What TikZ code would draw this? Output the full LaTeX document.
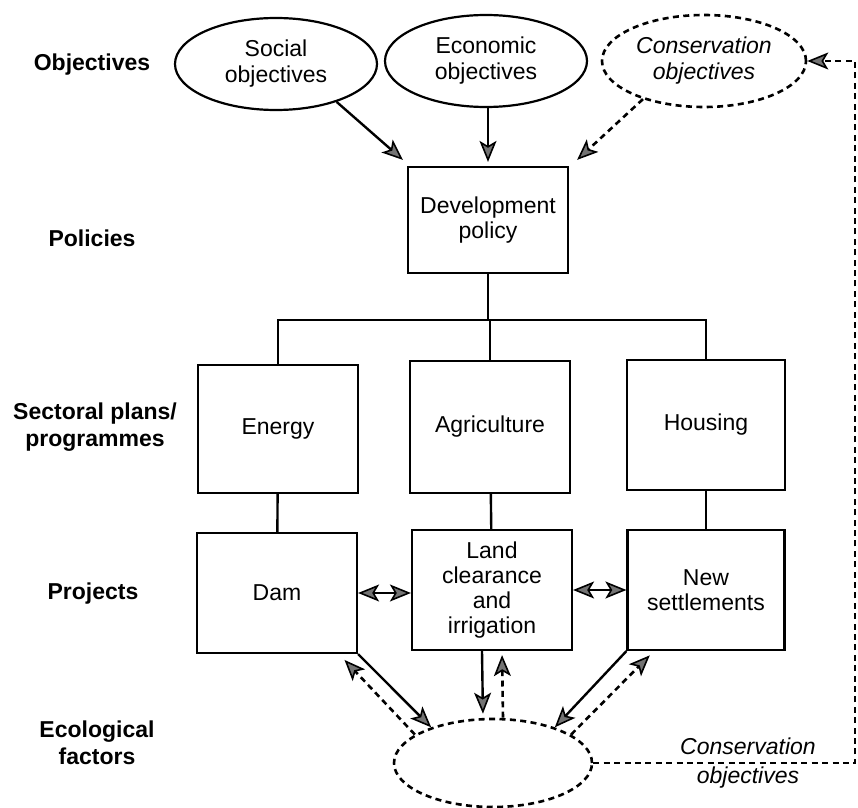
\documentclass[tikz,border=0pt]{standalone}
\usepackage{fontspec}
\setmainfont{Liberation Sans}
\usetikzlibrary{shapes.geometric,arrows.meta}

\begin{document}
\begin{tikzpicture}[x=0.5pt,y=-0.5pt,
  head/.tip={Stealth[length=10.5pt,width=8.5pt,inset=2.5pt,fill=black!55,line width=0.8pt]},
  box/.style={draw,line width=1.1pt,align=center,inner sep=2pt,
    font=\fontsize{11.5}{12.5}\selectfont},
  goal/.style={draw,ellipse,line width=1.1pt,align=center,inner sep=-3pt,
    minimum width=101pt,minimum height=46pt,font=\fontsize{11.5}{13}\selectfont},
  level/.style={align=center,inner sep=0pt,font=\fontsize{11.5}{13.5}\selectfont\bfseries},
  link/.style={line width=1.2pt},
  feed/.style={line width=1.3pt,dash pattern=on 3pt off 2.2pt}]
  \useasboundingbox (0,0) rectangle (858,808);

  % row labels
  \node[level] (lobj) at (92,65) {Objectives};
  \node[level] (lpol) at (92,238) {Policies};
  \node[level] (lsec) at (95,427) {Sectoral plans/\\programmes};
  \node[level] (lproj) at (93,594) {Projects};
  \node[level] (leco) at (97,743) {Ecological\\factors};

  % objectives
  \node[goal] (social) at (276,64) {Social\\objectives};
  \node[goal] (econ) at (486,61) {Economic\\objectives};
  \node[goal,feed,minimum width=102pt,
    font=\fontsize{11.5}{13}\selectfont\itshape] (cons) at (704,61) {Conservation\\objectives};

  % policy and plans
  \node[box,minimum width=80pt,minimum height=53pt] (policy) at (488,220) {Development\\policy};
  \node[box,minimum width=80pt,minimum height=64pt] (energy) at (278,429) {Energy};
  \node[box,minimum width=80pt,minimum height=66pt] (agri) at (490,427) {Agriculture};
  \node[box,minimum width=79pt,minimum height=65pt] (housing) at (706,425) {Housing};

  % projects
  \node[box,minimum width=80pt,minimum height=60pt] (dam) at (277,593) {Dam};
  \node[box,minimum width=80pt,minimum height=60pt] (land) at (492,590) {Land\\clearance\\and\\irrigation};
  \node[box,minimum width=78.5pt,minimum height=60pt] (settle) at (706,590) {New\\settlements};

  % ecological factors
  \node[draw,ellipse,feed,minimum width=99pt,minimum height=44pt] (ecol) at (493,763) {};
  \node[font=\fontsize{11.5}{14.5}\selectfont\itshape,align=center] (note) at (748,763) {Conservation\\objectives};

  % objectives into policy
  \draw[link,-head] (social.-32) -- ([shift={(-2pt,3pt)}]policy.north west);
  \draw[link,-head] (econ.south -| policy.north) -- ([yshift=2pt]policy.north);
  \draw[feed,-head] (cons.-148) -- ([shift={(4pt,3pt)}]policy.north east);

  % policy tree
  \coordinate (bar) at (0,320);
  \draw[link] (policy.south) -- (policy.south |- bar);
  \draw[link] (energy.north) -- (energy.north |- bar) -- (housing.north |- bar) -- (housing.north);
  \draw[link] (agri.north) -- (agri.north |- bar);
  \draw[link] (energy) -- (dam);
  \draw[link] (agri) -- (land);
  \draw[link] (housing) -- (settle);

  % links between projects
  \draw[link,head-head] (dam.east) -- (dam.east -| land.west);
  \draw[link,head-head] (land.east) -- (land.east -| settle.west);

  % projects and ecology
  \draw[link,-head] (dam.south east) -- (ecol.150);
  \draw[feed,-head,shorten >=4pt] (ecol.160) -- ([xshift=31pt]dam.south);
  \draw[link,-head,shorten >=2pt] ([xshift=-5pt]land.south) -- ([xshift=-5pt]ecol.north);
  \draw[feed,-head,shorten >=2pt] ([xshift=5pt]ecol.north) -- ([xshift=5pt]land.south);
  \draw[link,-head] (settle.south west) -- (ecol.30);
  \draw[feed,-head,shorten >=3pt] (ecol.20) -- ([xshift=-26pt]settle.south);

  % feedback to conservation objectives
  \coordinate (edge) at (855,763);
  \draw[feed,-head] (ecol.east) -- (edge) |- (cons.east);
\end{tikzpicture}
\end{document}
